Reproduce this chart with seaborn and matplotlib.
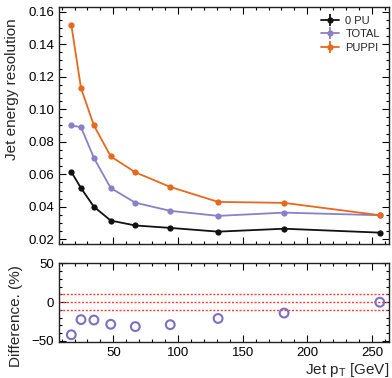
import numpy as np
import pandas as pd
import seaborn as sns
import matplotlib
matplotlib.use("Agg")
import matplotlib.pyplot as plt
from matplotlib.lines import Line2D
from matplotlib.legend_handler import HandlerTuple
from matplotlib.ticker import MultipleLocator

# ---- data ----
pt = [17.5, 25, 35, 48, 67, 94, 131, 182, 256]
res_0pu = [0.0615, 0.0515, 0.0400, 0.0315, 0.0285, 0.0270, 0.0247, 0.0265, 0.0241]
res_total = [0.0900, 0.0890, 0.0700, 0.0515, 0.0425, 0.0375, 0.0344, 0.0364, 0.0348]
res_puppi = [0.1520, 0.1130, 0.0900, 0.0710, 0.0612, 0.0522, 0.0430, 0.0424, 0.0348]
diff_pct = [-42, -22.5, -23, -28.5, -31.5, -29, -21, -14, 0]
series_names = ["0 PU", "TOTAL", "PUPPI"]
ref_lines = [10, 0, -10]

colors = {"0 PU": "#111111", "TOTAL": "#8a80c8", "PUPPI": "#e6691d"}

sns.set_style("ticks")
plt.rcParams["font.family"] = ["Liberation Sans", "DejaVu Sans"]
plt.rcParams["mathtext.fontset"] = "custom"
plt.rcParams["mathtext.rm"] = "Liberation Sans"
plt.rcParams["mathtext.it"] = "Liberation Sans"

df = pd.DataFrame({
    "pt": pt * 3,
    "res": res_0pu + res_total + res_puppi,
    "series": sum([[n] * len(pt) for n in series_names], []),
})
ddf = pd.DataFrame({"pt": pt, "diff": diff_pct})

fig = plt.figure(figsize=(3.92, 3.78), dpi=100)
ax = fig.add_axes([0.1505, 0.3545, 0.8415, 0.627])
ax2 = fig.add_axes([0.1505, 0.096, 0.8415, 0.209])

sns.lineplot(data=df, x="pt", y="res", hue="series", hue_order=series_names,
             palette=colors, marker="o", markersize=4.5, markeredgewidth=0,
             linewidth=1.3, ax=ax, legend=False)

for a in (ax, ax2):
    a.set_xlim(8, 263)
    a.xaxis.set_major_locator(MultipleLocator(50))
    a.xaxis.set_minor_locator(MultipleLocator(10))
    a.tick_params(which="both", direction="in", top=True, right=True,
                  labelsize=9.5, width=0.8, colors="black")
    a.tick_params(which="major", length=5)
    a.tick_params(which="minor", length=2.5)
    for s in a.spines.values():
        s.set_linewidth(1.0)
        s.set_color("#222222")

ax.set_ylim(0.0171, 0.1629)
ax.yaxis.set_major_locator(MultipleLocator(0.02))
ax.yaxis.set_minor_locator(MultipleLocator(0.005))
ax.yaxis.set_major_formatter(matplotlib.ticker.FormatStrFormatter("%.2f"))
ax.tick_params(labelbottom=False)
ax.set_xlabel("")
ax.set_ylabel("Jet energy resolution", fontsize=11)
ax.yaxis.set_label_coords(-0.12, 0.655)

handles = []
for n in series_names:
    h1 = Line2D([], [], color=colors[n], lw=1.3, marker="o", markersize=4.5, markeredgewidth=0)
    h2 = Line2D([], [], color=colors[n], lw=0, marker="|", markersize=8, markeredgewidth=1.3)
    handles.append((h1, h2))
ax.legend(handles, series_names, handler_map={tuple: HandlerTuple(ndivide=1)},
          loc="upper right", frameon=False, fontsize=8, handlelength=1.6,
          handletextpad=0.6, labelspacing=0.3, borderaxespad=0.4)

for v in ref_lines:
    ax2.axhline(v, color="#ff3b3b", lw=1.0, ls=(0, (1.5, 1.2)), zorder=1)
sns.scatterplot(data=ddf, x="pt", y="diff", ax=ax2, marker="o", s=40,
                facecolors="none", edgecolor="#7b70c4", linewidth=1.5, zorder=3)
ax2.set_ylim(-51, 51)
ax2.yaxis.set_major_locator(MultipleLocator(50))
ax2.yaxis.set_minor_locator(MultipleLocator(10))
ax2.set_ylabel("Difference. (%)", fontsize=11)
ax2.yaxis.set_label_coords(-0.11, 0.33)
ax2.set_xlabel(r"Jet p$_\mathregular{T}$ [GeV]", fontsize=11, loc="right", labelpad=2)

fig.savefig("out.png", dpi=100)
